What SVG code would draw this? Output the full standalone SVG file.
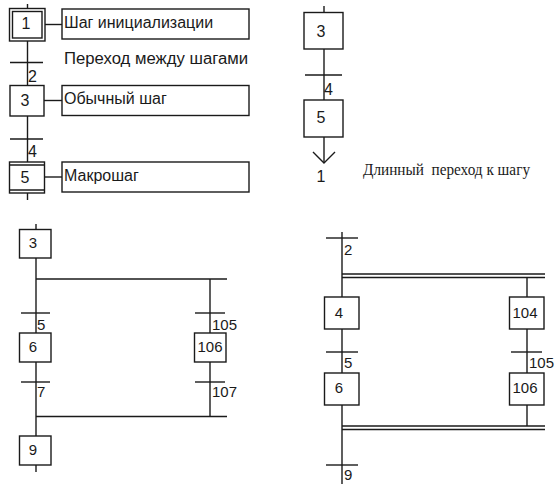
<svg xmlns="http://www.w3.org/2000/svg" width="558" height="490" viewBox="0 0 558 490">
<style>
.b{fill:none;stroke:#1a1a1a;stroke-width:1.4}
.l{stroke:#1a1a1a;stroke-width:1.4;fill:none}
.t{font-family:"Liberation Sans",Arial,sans-serif;font-size:15px;fill:#1a1a1a}
.d{font-family:"Liberation Sans",Arial,sans-serif;font-size:16px;fill:#1a1a1a}
.c{text-anchor:middle}
.s{font-family:"Liberation Serif","Times New Roman",serif;font-size:16px;fill:#1a1a1a}
</style>
<rect width="558" height="490" fill="#fff"/>
<g id="connectors">
<!-- top-left -->
<line class="l" x1="27.5" y1="4" x2="27.5" y2="9"/>
<line class="l" x1="27.5" y1="41" x2="27.5" y2="85.5"/>
<line class="l" x1="27.5" y1="116" x2="27.5" y2="162"/>
<line class="l" x1="27.5" y1="193" x2="27.5" y2="200"/>
<line class="l" x1="10" y1="62.5" x2="43" y2="62.5"/>
<line class="l" x1="10" y1="139" x2="43" y2="139"/>
<line class="l" x1="45" y1="24.5" x2="62" y2="24.5"/>
<line class="l" x1="44" y1="100.5" x2="62" y2="100.5"/>
<line class="l" x1="44.5" y1="177" x2="62" y2="177"/>
<!-- top-right -->
<line class="l" x1="324" y1="6" x2="324" y2="12"/>
<line class="l" x1="324" y1="49" x2="324" y2="100"/>
<line class="l" x1="305" y1="75" x2="342" y2="75"/>
<line class="l" x1="324" y1="137" x2="324" y2="163"/>
<polyline class="l" points="313,152 324,163 335,152"/>
<!-- bottom-left -->
<line class="l" x1="36" y1="224" x2="36" y2="229"/>
<line class="l" x1="36" y1="258" x2="36" y2="333"/>
<line class="l" x1="36" y1="362" x2="36" y2="436"/>
<line class="l" x1="36" y1="465" x2="36" y2="472"/>
<line class="l" x1="36" y1="279" x2="227" y2="279"/>
<line class="l" x1="36" y1="416.5" x2="227" y2="416.5"/>
<line class="l" x1="210" y1="279" x2="210" y2="333"/>
<line class="l" x1="210" y1="362" x2="210" y2="416.5"/>
<line class="l" x1="21" y1="313" x2="50" y2="313"/>
<line class="l" x1="195" y1="313" x2="225" y2="313"/>
<line class="l" x1="21" y1="382" x2="50" y2="382"/>
<line class="l" x1="195" y1="382" x2="225" y2="382"/>
<!-- bottom-right -->
<line class="l" x1="342" y1="232" x2="342" y2="297"/>
<line class="l" x1="342" y1="329" x2="342" y2="373"/>
<line class="l" x1="342" y1="405" x2="342" y2="484"/>
<line class="l" x1="326" y1="238" x2="358" y2="238"/>
<line class="l" x1="342" y1="274" x2="545" y2="274"/>
<line class="l" x1="342" y1="277.5" x2="545" y2="277.5"/>
<line class="l" x1="527" y1="277.5" x2="527" y2="297"/>
<line class="l" x1="527" y1="329" x2="527" y2="373"/>
<line class="l" x1="527" y1="405" x2="527" y2="426"/>
<line class="l" x1="326" y1="352" x2="358" y2="352"/>
<line class="l" x1="511" y1="352" x2="542" y2="352"/>
<line class="l" x1="342" y1="426" x2="545" y2="426"/>
<line class="l" x1="342" y1="429.5" x2="545" y2="429.5"/>
<line class="l" x1="326" y1="465" x2="358" y2="465"/>
</g>
<g id="step1">
<rect class="b" x="9.5" y="8.5" width="35.5" height="32.5"/>
<rect class="b" x="12.5" y="11.5" width="29.5" height="26.5"/>
<text class="d c" x="26" y="29">1</text>
</g>
<g id="desc1"><rect class="b" x="62" y="9" width="187" height="30"/><text class="d" x="64" y="28">Шаг инициализации</text></g>
<g id="label-transition"><text class="d" x="64" y="64" textLength="184" lengthAdjust="spacingAndGlyphs">Переход между шагами</text></g>
<g id="t2"><text class="d" x="28" y="82">2</text></g>
<g id="step3a"><rect class="b" x="10" y="85.5" width="34" height="30.5"/><text class="d c" x="25" y="106">3</text></g>
<g id="desc3"><rect class="b" x="62" y="85.5" width="187" height="30"/><text class="d" x="64" y="104">Обычный шаг</text></g>
<g id="t4"><text class="d" x="28" y="157">4</text></g>
<g id="step5a">
<rect class="b" x="9.5" y="162" width="35" height="31"/>
<line class="l" x1="9.5" y1="165" x2="44.5" y2="165"/>
<line class="l" x1="9.5" y1="190" x2="44.5" y2="190"/>
<text class="d c" x="25" y="183">5</text>
</g>
<g id="desc5"><rect class="b" x="62" y="162" width="187" height="30"/><text class="d" x="64" y="181">Макрошаг</text></g>
<g id="step3b"><rect class="b" x="304" y="12.5" width="39" height="36.5"/><text class="d c" x="321" y="37">3</text></g>
<g id="t4b"><text class="d" x="324" y="95">4</text></g>
<g id="step5b"><rect class="b" x="304" y="100" width="39" height="37"/><text class="d c" x="321" y="123">5</text></g>
<g id="jump1"><text class="d c" x="321" y="182">1</text></g>
<g id="label-long"><text class="s" x="363" y="175" xml:space="preserve" textLength="167" lengthAdjust="spacingAndGlyphs">Длинный  переход к шагу</text></g>
<g id="step3c"><rect class="b" x="19.5" y="229.5" width="31.5" height="28.5"/><text class="t c" x="33" y="248">3</text></g>
<g id="t5c"><text class="t" x="37" y="330">5</text></g>
<g id="t105c"><text class="t" x="212" y="330">105</text></g>
<g id="step6c"><rect class="b" x="19.5" y="333" width="31.5" height="29"/><text class="t c" x="33" y="352">6</text></g>
<g id="step106c"><rect class="b" x="194.5" y="333" width="31.5" height="29"/><text class="t c" x="210" y="352">106</text></g>
<g id="t7c"><text class="t" x="37" y="397">7</text></g>
<g id="t107c"><text class="t" x="212" y="397">107</text></g>
<g id="step9c"><rect class="b" x="19.5" y="436" width="31.5" height="29"/><text class="t c" x="33" y="455">9</text></g>
<g id="t2d"><text class="t" x="344" y="255">2</text></g>
<g id="step4d"><rect class="b" x="324.5" y="297" width="34.5" height="32"/><text class="t c" x="339" y="318">4</text></g>
<g id="step104d"><rect class="b" x="509.5" y="297" width="34.5" height="32"/><text class="t c" x="525" y="318">104</text></g>
<g id="t5d"><text class="t" x="344" y="368">5</text></g>
<g id="t105d"><text class="t" x="529" y="368">105</text></g>
<g id="step6d"><rect class="b" x="324.5" y="373" width="34.5" height="32"/><text class="t c" x="339" y="393">6</text></g>
<g id="step106d"><rect class="b" x="509.5" y="373" width="34.5" height="32"/><text class="t c" x="525" y="393">106</text></g>
<g id="t9d"><text class="t" x="344" y="480">9</text></g>
</svg>
